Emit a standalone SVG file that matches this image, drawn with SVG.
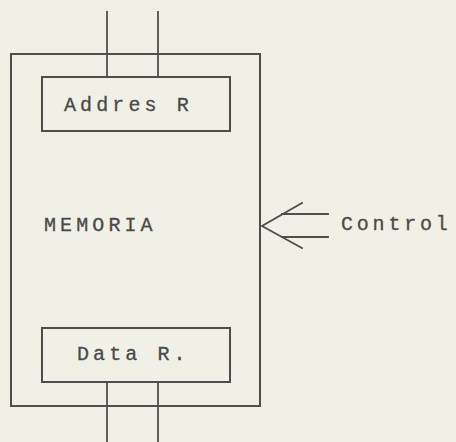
<svg xmlns="http://www.w3.org/2000/svg" width="456" height="442" viewBox="0 0 456 442">
<style>
.ln{fill:none;stroke:#4e4e4e;stroke-width:1.8;stroke-linecap:square}
.bx{fill:none;stroke:#4e4e4e;stroke-width:2}
.t{font-family:"Liberation Mono","DejaVu Sans Mono",monospace;font-size:20px;fill:#4a4a4a;letter-spacing:4.1px;stroke:#4a4a4a;stroke-width:0.3}
</style>
<rect width="456" height="442" fill="#f0f0e7"/>
<g id="memoria">
<rect class="bx" x="11" y="54" width="249" height="352"/>
<text class="t" x="44" y="231">MEMORIA</text>
</g>
<g id="addres">
<rect class="bx" x="42" y="77" width="188" height="54"/>
<text class="t" x="64" y="111">Addres R</text>
</g>
<g id="data">
<rect class="bx" x="42" y="328" width="188" height="54"/>
<text class="t" x="77" y="360">Data R.</text>
</g>
<g id="control">
<text class="t" x="341" y="230" style="letter-spacing:3.8px">Control</text>
</g>
<g id="connectors">
<line class="ln" x1="107" y1="12" x2="107" y2="77"/>
<line class="ln" x1="158" y1="12" x2="158" y2="77"/>
<line class="ln" x1="107" y1="382" x2="107" y2="442"/>
<line class="ln" x1="158" y1="382" x2="158" y2="442"/>
<polyline class="ln" points="302,203 262,226 302,248"/>
<line class="ln" x1="282" y1="214" x2="328" y2="214"/>
<line class="ln" x1="282" y1="237" x2="328" y2="237"/>
</g>
</svg>
